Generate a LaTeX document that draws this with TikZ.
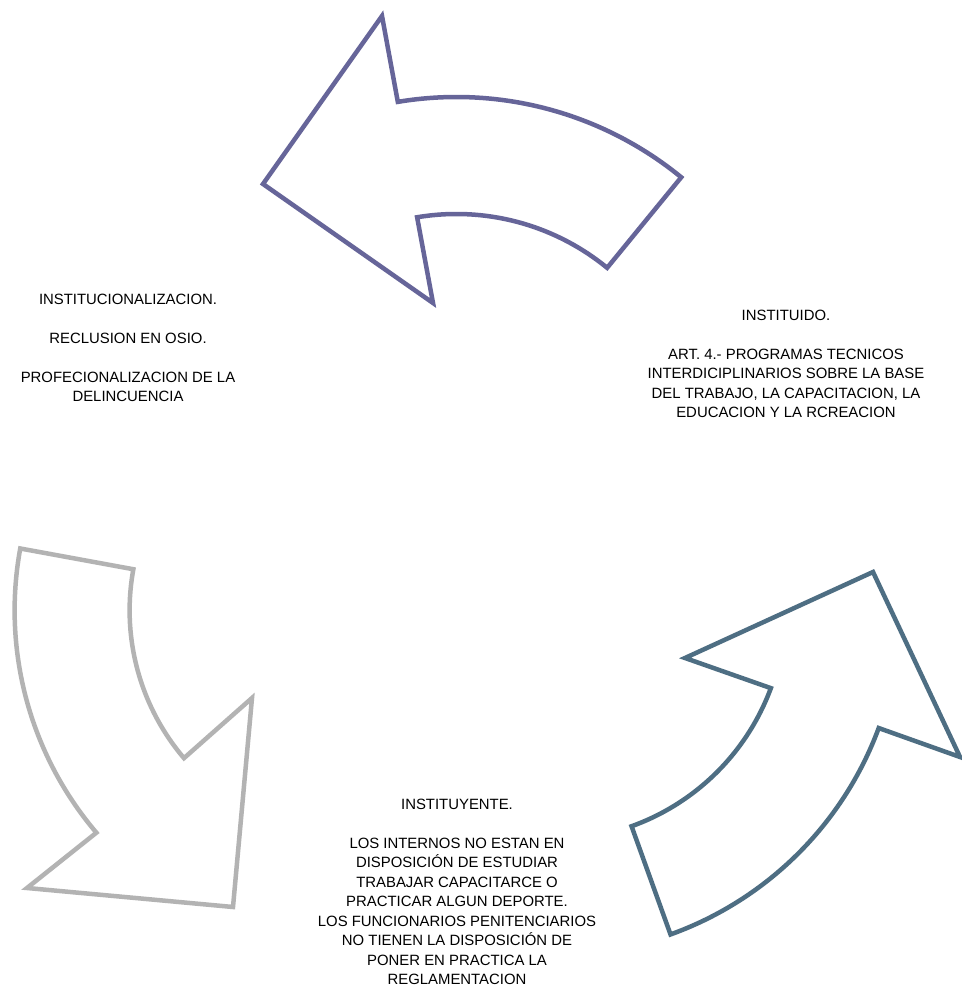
\documentclass[tikz,border=0pt]{standalone}
\usepackage{fontspec}
\setmainfont{Liberation Sans}
\usetikzlibrary{calc}
\definecolor{purp}{RGB}{102,101,153}
\definecolor{teal2}{RGB}{78,110,131}
\definecolor{gray2}{RGB}{179,179,179}
\begin{document}
\begin{tikzpicture}[x=1pt,y=1pt,
  arrowshape/.style={line width=4.5pt,line join=miter,fill=white},
  lbl/.style={align=center,inner sep=0pt,font=\fontsize{14.9}{19.5}\selectfont}]
\useasboundingbox (0,0) rectangle (961,987);
\fill[white] (0,0) rectangle (961,987);
% centres of the three curved arrows
\coordinate (cP) at (456.4,535);
\coordinate (cT) at (552.8,379.5);
\coordinate (cG) at (357.6,376.6);
% purple arrow (top)
\draw[arrowshape,draw=purp] ($(cP)+(99.5:355)$) arc[start angle=99.5,end angle=50.7,radius=355pt]
  -- ($(cP)+(50.7:238)$) arc[start angle=50.7,end angle=99.5,radius=238pt]
  -- (433,684) -- (263,803) -- (382,971) -- cycle;
% teal arrow (bottom right)
\draw[arrowshape,draw=teal2] (873,415) -- (960,230) -- ($(cT)+(-20.3:347.5)$)
  arc[start angle=-20.3,end angle=-70.2,radius=347.5pt]
  -- ($(cT)+(-70.2:232.5)$) arc[start angle=-70.2,end angle=-20.3,radius=232.5pt]
  -- (685,329) -- cycle;
% gray arrow (left)
\draw[arrowshape,draw=gray2] ($(cG)+(169.6:343)$) -- ($(cG)+(169.6:228)$)
  arc[start angle=169.6,end angle=220.4,radius=228pt]
  -- (252,289) -- (233,80) -- (27,99) -- ($(cG)+(220.4:343)$)
  arc[start angle=220.4,end angle=169.6,radius=343pt] -- cycle;
% texts
\node[lbl] (tl) at (128,639) {INSTITUCIONALIZACION.\\[19.5pt]RECLUSION EN OSIO.\\[19.5pt]PROFECIONALIZACION DE LA\\DELINCUENCIA};
\node[lbl] (tr) at (786,623) {INSTITUIDO.\\[19.5pt]ART. 4.- PROGRAMAS TECNICOS\\INTERDICIPLINARIOS SOBRE LA BASE\\DEL TRABAJO, LA CAPACITACION, LA\\EDUCACION Y LA RCREACION};
\node[lbl] (tb) at (457,95) {INSTITUYENTE.\\[19.5pt]LOS INTERNOS NO ESTAN EN\\DISPOSICIÓN DE ESTUDIAR\\TRABAJAR CAPACITARCE O\\PRACTICAR ALGUN DEPORTE.\\LOS FUNCIONARIOS PENITENCIARIOS\\NO TIENEN LA DISPOSICIÓN DE\\PONER EN PRACTICA LA\\REGLAMENTACION};
\end{tikzpicture}
\end{document}
